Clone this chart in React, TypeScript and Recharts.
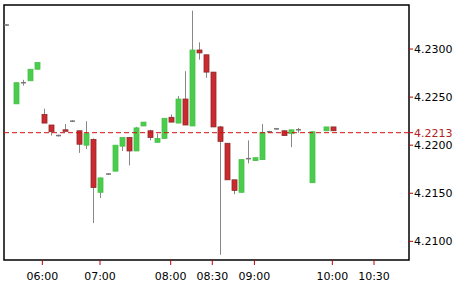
import React from "react";
import {
  ComposedChart,
  Bar,
  XAxis,
  YAxis,
  ReferenceLine,
  ReferenceArea,
} from "recharts";

// 5-minute candles, x = slot index (gaps where no trades)
const slots = [
  -1.4, 0, 1, 2, 3, 4, 5, 6, 7, 8, 9, 10, 11, 12, 13, 14, 15, 16, 17, 18, 19,
  20, 21, 22, 23, 24, 25, 26, 27, 28, 29, 30, 31, 32, 33, 34, 35, 36, 37, 38,
  39, 40, 42, 44, 45,
];
const opens = [
  4.2325, 4.2243, 4.2265, 4.2267, 4.2279, 4.2232, 4.2221, 4.221, 4.2216,
  4.2225, 4.2215, 4.22, 4.2206, 4.2151, 4.217, 4.2173, 4.2199, 4.2208, 4.2194,
  4.222, 4.2215, 4.2203, 4.2207, 4.2229, 4.2223, 4.2248, 4.222, 4.2299, 4.2294,
  4.2276, 4.2219, 4.2202, 4.2164, 4.2151, 4.2186, 4.2184, 4.2185, 4.2214,
  4.2217, 4.2215, 4.2212, 4.2216, 4.2161, 4.2215, 4.2219,
];
const highs = [
  4.2326, 4.2265, 4.2268, 4.2279, 4.2286, 4.2238, 4.2221, 4.2211, 4.2222,
  4.2226, 4.2215, 4.2225, 4.2207, 4.2166, 4.2171, 4.22, 4.2208, 4.2208, 4.2219,
  4.2224, 4.2216, 4.2212, 4.2228, 4.2232, 4.2251, 4.2277, 4.234, 4.2307,
  4.2294, 4.2276, 4.222, 4.2202, 4.2164, 4.2185, 4.2205, 4.2187, 4.2222,
  4.2215, 4.2218, 4.2215, 4.2216, 4.2218, 4.2214, 4.2219, 4.2219,
];
const lows = [
  4.2324, 4.2243, 4.2262, 4.2267, 4.2279, 4.2223, 4.221, 4.2209, 4.2215,
  4.2224, 4.2192, 4.2196, 4.2119, 4.2145, 4.2169, 4.2173, 4.2194, 4.2179,
  4.2194, 4.222, 4.2205, 4.2203, 4.2207, 4.2224, 4.2223, 4.2221, 4.222, 4.2289,
  4.227, 4.2219, 4.2086, 4.2164, 4.2149, 4.2151, 4.2181, 4.2184, 4.2185,
  4.2213, 4.2216, 4.221, 4.2198, 4.2213, 4.2161, 4.2215, 4.2215,
];
const closes = [
  4.2325, 4.2265, 4.2265, 4.2279, 4.2286, 4.2223, 4.2214, 4.221, 4.2215,
  4.2225, 4.2201, 4.2212, 4.2156, 4.2166, 4.217, 4.22, 4.2208, 4.2194, 4.2218,
  4.2224, 4.2208, 4.2207, 4.2228, 4.2224, 4.2248, 4.2221, 4.2299, 4.2296,
  4.2276, 4.2219, 4.2204, 4.2164, 4.2153, 4.2185, 4.2186, 4.2187, 4.2213,
  4.2214, 4.2217, 4.221, 4.2216, 4.2216, 4.2214, 4.2219, 4.2215,
];

const xTicks = [3.74, 11.93, 21.97, 27.88, 33.86, 44.93, 50.85];
const xTickLabels = ["06:00", "07:00", "08:00", "08:30", "09:00", "10:00", "10:30"];
const yTicks = [4.21, 4.215, 4.22, 4.2213, 4.225, 4.23];
const lastPrice = 4.2213;

const data = slots.map((slot, i) => ({
  slot,
  open: opens[i],
  high: highs[i],
  low: lows[i],
  close: closes[i],
  range: [lows[i], highs[i]],
}));

const font = "'DejaVu Sans', sans-serif";

const Candle = (props: any) => {
  const { x, y, width, height, payload } = props;
  const { open, close, high, low } = payload;
  const k = high > low ? height / (high - low) : 0;
  const cx = Math.round(x + width / 2) + 0.5;
  const yOf = (v: number) => y + (high - v) * k;
  const top = yOf(Math.max(open, close));
  const bot = yOf(Math.min(open, close));
  const up = close > open;
  const flat = close === open;
  return (
    <g>
      <line x1={cx} x2={cx} y1={y} y2={y + height} stroke="#888" strokeWidth={1} />
      {flat ? (
        <line x1={cx - 2.5} x2={cx + 2.5} y1={top} y2={top} stroke="#777" strokeWidth={1.5} />
      ) : (
        <rect
          x={cx - 2.5}
          y={top}
          width={5}
          height={Math.max(bot - top, 1.5)}
          fill={up ? "#4ccc4c" : "#cc2a2f"}
          stroke={up ? "#48c048" : "#8a2a2a"}
          strokeWidth={0.8}
        />
      )}
    </g>
  );
};

const YTick = (props: any) => {
  const { x, y, payload } = props;
  const hl = payload.value === lastPrice;
  return (
    <text
      x={x}
      y={y}
      dy="0.355em"
      textAnchor="start"
      fontSize={11}
      fontFamily={font}
      fill={hl ? "#b22222" : "#000"}
    >
      {payload.value.toFixed(4)}
    </text>
  );
};

export default function App() {
  return (
    <div style={{ position: "absolute", left: 0, top: 0, width: 470, height: 286, background: "#fff" }}>
      <ComposedChart
        width={470}
        height={286}
        data={data}
        margin={{ top: 5, right: 0, bottom: 0, left: 4 }}
      >
        <XAxis
          dataKey="slot"
          type="number"
          domain={[-1.705, 55.82]}
          allowDataOverflow
          ticks={xTicks}
          interval={0}
          tickFormatter={(v: number) => xTickLabels[xTicks.indexOf(v)] ?? ""}
          height={26}
          axisLine={false}
          tickLine={{ stroke: "#c00000" }}
          tickSize={5}
          tickMargin={7}
          tick={{ fill: "#000", fontSize: 11, fontFamily: font }}
        />
        <YAxis
          orientation="right"
          type="number"
          domain={[4.20806, 4.23458]}
          allowDataOverflow
          ticks={yTicks}
          interval={0}
          width={61}
          axisLine={false}
          tickLine={{ stroke: "#c00000" }}
          tickSize={4}
          tickMargin={1}
          tick={<YTick />}
        />
        <ReferenceArea
          x1={-1.705}
          x2={55.82}
          y1={4.20806}
          y2={4.23458}
          fill="none"
          stroke="#000"
          strokeWidth={1.5}
          fillOpacity={0}
        />
        <ReferenceLine y={lastPrice} stroke="#d01010" strokeDasharray="5 3" strokeWidth={1} />
        <Bar dataKey="range" barSize={5} shape={<Candle />} isAnimationActive={false} />
      </ComposedChart>
    </div>
  );
}
